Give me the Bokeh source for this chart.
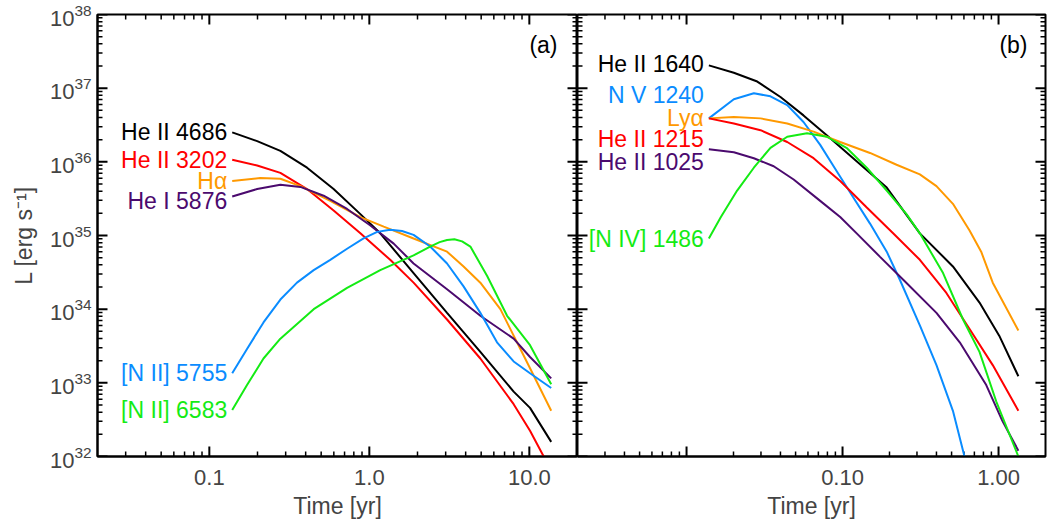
import numpy as np
from bokeh.plotting import figure
from bokeh.layouts import row
from bokeh.models import FixedTicker, ColumnDataSource, Range1d
from bokeh.embed import file_html
from bokeh.resources import INLINE
from bokeh.core.properties import value

FONT = "Liberation Sans"

# ---------------- axes / ticks ----------------
a_xrange = [0.02, 20.0]
b_xrange = [0.002, 2.0]
y_limits = [1e32, 1e38]

a_xticks = [0.1, 1.0, 10.0]
a_xtick_labels = ["0.1", "1.0", "10.0"]
b_xticks = [0.01, 0.1, 1.0]
b_xtick_labels = ["", "0.10", "1.00"]
y_ticks = [1e32, 1e33, 1e34, 1e35, 1e36, 1e37, 1e38]

x_title = "Time [yr]"
y_title = "L [erg s\u207b\u00b9]"

# ---------------- panel (a) data ----------------
a_names = ["He II 4686", "He II 3202", "H\u03b1", "He I 5876", "[N II] 5755", "[N II] 6583"]
a_colors = ["#000000", "#FF0000", "#FF9900", "#4B0A6E", "#0A8CFF", "#14EB14"]

a_t_he2_4686 = [0.139, 0.199, 0.278, 0.408, 0.598, 0.879, 1.17, 1.89, 3.06, 4.94, 7.98, 10.1, 13.7]
a_L_he2_4686 = [2.51e36, 1.91e36, 1.41e36, 8.32e35, 4.27e35, 1.95e35, 1.07e35, 3.09e34, 8.91e33, 2.63e33, 7.59e32, 4.57e32, 1.58e32]

a_t_he2_3202 = [0.139, 0.199, 0.278, 0.408, 0.598, 0.879, 1.35, 1.89, 3.06, 4.94, 7.98, 10.1, 12.3, 13.7]
a_L_he2_3202 = [1.07e36, 8.91e35, 7.08e35, 4.27e35, 2.19e35, 1.07e35, 4.68e34, 2.29e34, 7.24e33, 2.14e33, 5.13e32, 2.24e32, 1.0e32, 6.9e31]

a_t_halpha = [0.139, 0.208, 0.278, 0.371, 0.570, 0.879, 1.23, 1.89, 3.06, 3.88, 4.94, 6.59, 8.79, 10.1, 13.7]
a_L_halpha = [5.50e35, 6.03e35, 5.89e35, 4.68e35, 2.95e35, 1.78e35, 1.32e35, 9.12e34, 6.03e34, 3.80e34, 2.29e34, 1.0e34, 2.88e33, 1.58e33, 4.17e32]

a_t_he1_5876 = [0.139, 0.199, 0.278, 0.371, 0.518, 0.726, 1.01, 1.42, 1.89, 3.06, 4.94, 7.98, 10.1, 13.7]
a_L_he1_5876 = [3.39e35, 4.27e35, 4.90e35, 4.57e35, 3.47e35, 2.29e35, 1.38e35, 7.76e34, 4.17e34, 1.86e34, 8.13e33, 3.98e33, 2.24e33, 1.15e33]

a_t_n2_5755 = [0.139, 0.172, 0.218, 0.278, 0.353, 0.449, 0.570, 0.726, 0.920, 1.12, 1.35, 1.60, 1.89, 2.40, 3.06, 3.88, 4.94, 6.28, 7.98, 10.1, 13.7]
a_L_n2_5755 = [1.35e33, 2.88e33, 6.61e33, 1.35e34, 2.29e34, 3.39e34, 4.68e34, 6.61e34, 9.12e34, 1.12e35, 1.20e35, 1.15e35, 1.02e35, 7.08e34, 4.17e34, 2.04e34, 8.91e33, 3.55e33, 1.95e33, 1.35e33, 8.51e32]

a_t_n2_6583 = [0.139, 0.172, 0.218, 0.278, 0.449, 0.726, 1.17, 1.89, 2.40, 2.75, 3.06, 3.40, 3.80, 4.28, 5.45, 7.26, 10.1, 13.7]
a_L_n2_6583 = [4.27e32, 9.33e32, 2.14e33, 3.98e33, 1.0e34, 1.95e34, 3.39e34, 5.37e34, 7.08e34, 8.13e34, 8.71e34, 8.91e34, 8.32e34, 7.08e34, 2.82e34, 8.13e33, 3.24e33, 9.55e32]

a_label_dy = [0, 0, 0, 5, 0, 0]

# ---------------- panel (b) data ----------------
b_names = ["He II 1640", "N V 1240", "Ly\u03b1", "He II 1215", "He II 1025", "[N IV] 1486"]
b_colors = ["#000000", "#0A8CFF", "#FF9900", "#FF0000", "#4B0A6E", "#14EB14"]

b_t_he2_1640 = [0.0139, 0.0201, 0.0284, 0.0400, 0.0562, 0.0834, 0.117, 0.192, 0.313, 0.510, 0.755, 1.01, 1.34]
b_L_he2_1640 = [2.04e37, 1.62e37, 1.23e37, 7.59e36, 4.27e36, 2.09e36, 1.12e36, 4.47e35, 1.07e35, 3.80e34, 1.23e34, 4.37e33, 1.23e33]

b_t_n5_1240 = [0.0139, 0.0201, 0.0270, 0.0345, 0.0442, 0.0562, 0.0719, 0.0920, 0.117, 0.150, 0.192, 0.233, 0.313, 0.400, 0.510, 0.605, 0.701]
b_L_n5_1240 = [3.89e36, 7.08e36, 8.51e36, 7.76e36, 5.89e36, 3.47e36, 1.70e36, 7.41e35, 3.31e35, 1.45e35, 6.03e34, 2.51e34, 6.03e33, 1.74e33, 4.17e32, 1.0e32, 3.5e31]

b_t_lya = [0.0139, 0.0201, 0.0298, 0.0442, 0.0652, 0.0966, 0.150, 0.222, 0.313, 0.400, 0.510, 0.652, 0.774, 0.918, 1.34]
b_L_lya = [3.89e36, 4.07e36, 3.89e36, 3.31e36, 2.57e36, 1.86e36, 1.32e36, 9.12e35, 6.76e35, 4.68e35, 2.69e35, 1.17e35, 6.03e34, 2.29e34, 5.13e33]

b_t_he2_1215 = [0.0139, 0.0201, 0.0298, 0.0442, 0.0652, 0.0966, 0.143, 0.211, 0.313, 0.463, 0.652, 0.918, 1.34]
b_L_he2_1215 = [3.89e36, 3.31e36, 2.69e36, 1.86e36, 1.12e36, 5.50e35, 2.40e35, 1.07e35, 4.68e34, 1.66e34, 5.37e33, 1.74e33, 4.17e32]

b_t_he2_1025 = [0.0139, 0.0201, 0.0270, 0.0362, 0.0486, 0.0719, 0.0966, 0.126, 0.174, 0.245, 0.400, 0.564, 0.834, 1.06, 1.34]
b_L_he2_1025 = [1.48e36, 1.35e36, 1.12e36, 8.71e35, 5.75e35, 2.95e35, 1.78e35, 1.02e35, 5.13e34, 2.51e34, 8.91e33, 3.55e33, 9.33e32, 3.02e32, 1.20e32]

b_t_n4_1486 = [0.0139, 0.0166, 0.0211, 0.0270, 0.0345, 0.0442, 0.0592, 0.0794, 0.106, 0.143, 0.192, 0.257, 0.313, 0.441, 0.592, 0.755, 0.966, 1.34]
b_L_n4_1486 = [9.12e34, 1.78e35, 4.07e35, 8.32e35, 1.55e36, 2.19e36, 2.45e36, 2.19e36, 1.55e36, 8.32e35, 4.07e35, 1.95e35, 1.07e35, 3.09e34, 7.24e33, 2.63e33, 5.62e32, 1.0e32]

b_label_dy = [-1, -23, 0, 21, 13, 1]

a_series = [(a_t_he2_4686, a_L_he2_4686), (a_t_he2_3202, a_L_he2_3202), (a_t_halpha, a_L_halpha),
            (a_t_he1_5876, a_L_he1_5876), (a_t_n2_5755, a_L_n2_5755), (a_t_n2_6583, a_L_n2_6583)]
b_series = [(b_t_he2_1640, b_L_he2_1640), (b_t_n5_1240, b_L_n5_1240), (b_t_lya, b_L_lya),
            (b_t_he2_1215, b_L_he2_1215), (b_t_he2_1025, b_L_he2_1025), (b_t_n4_1486, b_L_n4_1486)]


def minor_list(lo_exp, hi_exp, lo, hi):
    out = []
    for e in range(lo_exp, hi_exp + 1):
        for k in range(2, 10):
            v = k * 10.0 ** e
            if lo < v < hi:
                out.append(v)
    return out


FH = 442
MAJ, MIN = 10, 5


def make_panel(xr, xticks, xlabels, series, names, colors, dys, tag, tag_dx, fw, left):
    p = figure(x_axis_type="log", y_axis_type="log",
               x_range=Range1d(*xr), y_range=Range1d(*y_limits),
               frame_width=fw, frame_height=FH,
               output_backend="svg", toolbar_location=None,
               min_border_left=97 if left else 0, min_border_right=0 if left else 2,
               min_border_top=14, min_border_bottom=0)
    p.grid.visible = False
    p.outline_line_color = "black"
    p.outline_line_width = 2
    lo = int(np.floor(np.log10(xr[0])))
    hi = int(np.floor(np.log10(xr[1])))
    x_minor = minor_list(lo, hi, xr[0], xr[1])
    y_minor = minor_list(32, 37, y_limits[0], y_limits[1])

    bx = p.xaxis[0]
    bx.ticker = FixedTicker(ticks=xticks, minor_ticks=[])
    bx.axis_line_width = 2
    bx.major_tick_in = 0
    bx.major_tick_out = 0
    bx.minor_tick_in = 0
    bx.minor_tick_out = 0
    bx.major_label_overrides = {float(k): v for k, v in zip(xticks, xlabels)}
    bx.major_label_text_font = FONT
    bx.major_label_text_font_size = "22px"
    bx.major_label_standoff = 13
    bx.axis_label = x_title
    bx.axis_label_text_font = FONT
    bx.axis_label_text_font_style = "normal"
    bx.axis_label_text_font_size = "23px"
    bx.axis_label_standoff = 5

    ly = p.yaxis[0]
    if left:
        ly.ticker = FixedTicker(ticks=y_ticks, minor_ticks=[])
        ly.axis_line_width = 2
        ly.major_tick_in = 0
        ly.major_tick_out = 0
        ly.minor_tick_in = 0
        ly.minor_tick_out = 0
        ly.major_label_text_font = FONT
        ly.major_label_text_font_size = "22px"
        ly.major_label_standoff = 6
        ly.axis_label = y_title
        ly.axis_label_text_font = FONT
        ly.axis_label_text_font_style = "normal"
        ly.axis_label_text_font_size = "23px"
        ly.axis_label_standoff = 10
    else:
        ly.visible = False

    # inward tick marks on all four sides, drawn as NaN-separated polylines
    ymin, ymax = y_limits
    ydec_px = np.log10(ymax / ymin) / FH
    xdec_px = np.log10(xr[1] / xr[0]) / fw

    def ticks_x(vals, edge, length, up, width):
        f = 10 ** (length * ydec_px)
        y1 = edge * f if up else edge / f
        xs, ys = [], []
        for v in vals:
            xs += [v, v, np.nan]
            ys += [edge, y1, np.nan]
        p.line(xs, ys, line_color="black", line_width=width)

    def ticks_y(vals, edge, length, right, width):
        f = 10 ** (length * xdec_px)
        x1 = edge * f if right else edge / f
        xs, ys = [], []
        for v in vals:
            xs += [edge, x1, np.nan]
            ys += [v, v, np.nan]
        p.line(xs, ys, line_color="black", line_width=width)

    ticks_x(xticks, ymin, MAJ, True, 2)
    ticks_x(x_minor, ymin, MIN, True, 1.5)
    ticks_x(xticks, ymax, MAJ, False, 2)
    ticks_x(x_minor, ymax, MIN, False, 1.5)
    ticks_y(y_ticks, xr[0], MAJ, True, 2)
    ticks_y(y_minor, xr[0], MIN, True, 1.5)
    ticks_y(y_ticks, xr[1], MAJ, False, 2)
    ticks_y(y_minor, xr[1], MIN, False, 1.5)

    for (t, L), c in zip(series, colors):
        p.line(t, L, line_color=c, line_width=2)

    src = ColumnDataSource(dict(
        x=[s[0][0] for s in series], y=[s[1][0] for s in series],
        text=names, color=colors, dy=dys))
    p.text(x="x", y="y", text="text", source=src, text_color="color",
           text_font=value(FONT), text_font_size="23px",
           text_align="right", text_baseline="alphabetic",
           x_offset=-5, y_offset="dy")

    p.text(x=[xr[1]], y=[y_limits[1]], text=[tag], text_color="black",
           text_font=value(FONT), text_font_size="23px",
           text_align="right", text_baseline="alphabetic",
           x_offset=-tag_dx, y_offset=30)
    return p


pa = make_panel(a_xrange, a_xticks, a_xtick_labels, a_series, a_names, a_colors,
                a_label_dy, "(a)", 20, 480, True)
pb = make_panel(b_xrange, b_xticks, b_xtick_labels, b_series, b_names, b_colors,
                b_label_dy, "(b)", 18, 468, False)

layout = row(pa, pb, spacing=0)
open("out.html", "w").write(file_html(layout, INLINE))
